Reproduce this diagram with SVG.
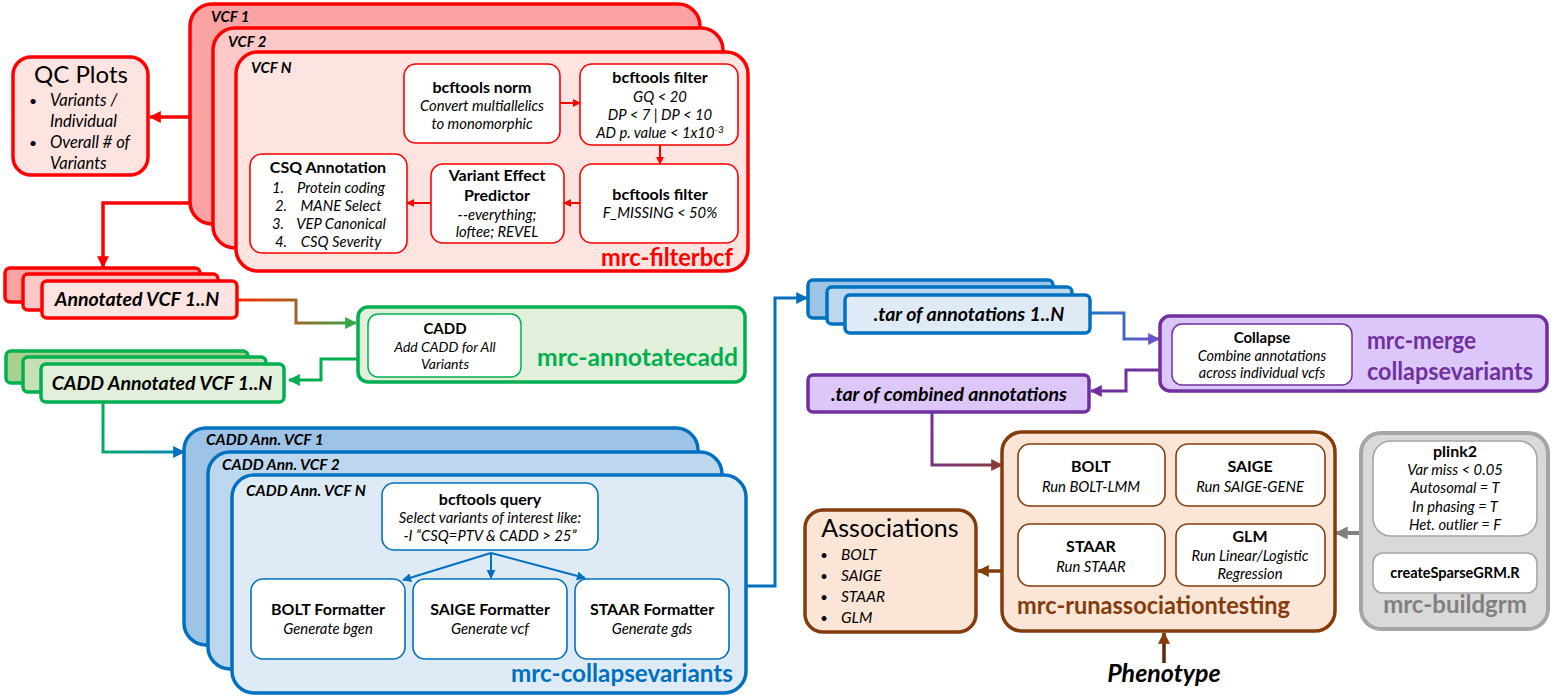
<svg xmlns="http://www.w3.org/2000/svg" width="1557" height="697" viewBox="0 0 1557 697">
<defs>
<style>
text{font-family:Lato,"Open Sans","Liberation Sans",sans-serif;fill:#000;}
.c{text-anchor:middle;}
.e{text-anchor:end;}
.b{font-weight:bold;}
.i{font-style:italic;}
.bi{font-weight:bold;font-style:italic;}
.h{font-size:16px;}
.s{font-size:14.8px;}
.lbl{font-size:24px;font-weight:bold;}
.red{stroke:#ff0000;stroke-width:3.5;}
.redin{fill:#fff;stroke:#ff0000;stroke-width:1.6;}
.grn{stroke:#00b050;stroke-width:3.5;}
.blu{stroke:#0070c0;stroke-width:3.5;}
.bluin{fill:#fff;stroke:#0070c0;stroke-width:1.6;}
.pur{stroke:#7030a0;stroke-width:3.5;}
.brn{stroke:#843c0c;stroke-width:3.5;}
.brnin{fill:#fff;stroke:#843c0c;stroke-width:1.6;}
.gry{stroke:#a5a5a5;stroke-width:4;}
.gryin{fill:#fff;stroke:#a5a5a5;stroke-width:1.6;}
.conn{fill:none;}
</style>
<marker id="aRed" viewBox="0 0 10 10" refX="9" refY="5" markerWidth="12" markerHeight="12" markerUnits="userSpaceOnUse" orient="auto"><path d="M0,0L10,5L0,10z" fill="#ff0000"/></marker>
<marker id="aRedS" viewBox="0 0 10 10" refX="9" refY="5" markerWidth="8" markerHeight="8" markerUnits="userSpaceOnUse" orient="auto"><path d="M0,0L10,5L0,10z" fill="#ff0000"/></marker>
<marker id="aGrn" viewBox="0 0 10 10" refX="9" refY="5" markerWidth="12" markerHeight="12" markerUnits="userSpaceOnUse" orient="auto"><path d="M0,0L10,5L0,10z" fill="#00b050"/></marker>
<marker id="aGrn2" viewBox="0 0 10 10" refX="9" refY="5" markerWidth="12" markerHeight="12" markerUnits="userSpaceOnUse" orient="auto"><path d="M0,0L10,5L0,10z" fill="#3aa64a"/></marker>
<marker id="aBlu" viewBox="0 0 10 10" refX="9" refY="5" markerWidth="12" markerHeight="12" markerUnits="userSpaceOnUse" orient="auto"><path d="M0,0L10,5L0,10z" fill="#0070c0"/></marker>
<marker id="aBluS" viewBox="0 0 10 10" refX="9" refY="5" markerWidth="9" markerHeight="9" markerUnits="userSpaceOnUse" orient="auto"><path d="M0,0L10,5L0,10z" fill="#0070c0"/></marker>
<marker id="aPur" viewBox="0 0 10 10" refX="9" refY="5" markerWidth="12" markerHeight="12" markerUnits="userSpaceOnUse" orient="auto"><path d="M0,0L10,5L0,10z" fill="#7030a0"/></marker>
<marker id="aPur2" viewBox="0 0 10 10" refX="9" refY="5" markerWidth="12" markerHeight="12" markerUnits="userSpaceOnUse" orient="auto"><path d="M0,0L10,5L0,10z" fill="#6a55c8"/></marker>
<marker id="aBrn" viewBox="0 0 10 10" refX="9" refY="5" markerWidth="12" markerHeight="12" markerUnits="userSpaceOnUse" orient="auto"><path d="M0,0L10,5L0,10z" fill="#843c0c"/></marker>
<marker id="aBrn2" viewBox="0 0 10 10" refX="9" refY="5" markerWidth="12" markerHeight="12" markerUnits="userSpaceOnUse" orient="auto"><path d="M0,0L10,5L0,10z" fill="#8b3a3a"/></marker>
<marker id="aGry" viewBox="0 0 10 10" refX="9" refY="5" markerWidth="13" markerHeight="13" markerUnits="userSpaceOnUse" orient="auto"><path d="M0,0L10,5L0,10z" fill="#808080"/></marker>
<marker id="aGryS" viewBox="0 0 10 10" refX="9" refY="5" markerWidth="8" markerHeight="8" markerUnits="userSpaceOnUse" orient="auto"><path d="M0,0L10,5L0,10z" fill="#808080"/></marker>
<linearGradient id="gRG" gradientUnits="userSpaceOnUse" x1="237" y1="299" x2="356" y2="323"><stop offset="0" stop-color="#ff2a00"/><stop offset="1" stop-color="#3aa64a"/></linearGradient>
<linearGradient id="gGB" gradientUnits="userSpaceOnUse" x1="103" y1="403" x2="183" y2="452"><stop offset="0" stop-color="#00b050"/><stop offset="1" stop-color="#0a8ab8"/></linearGradient>
<linearGradient id="gBP" gradientUnits="userSpaceOnUse" x1="1090" y1="313" x2="1158" y2="339"><stop offset="0" stop-color="#1c78c8"/><stop offset="1" stop-color="#6a55c8"/></linearGradient>
<linearGradient id="gPB" gradientUnits="userSpaceOnUse" x1="932" y1="412" x2="1002" y2="466"><stop offset="0" stop-color="#7030a0"/><stop offset="1" stop-color="#8b3a3a"/></linearGradient>
</defs>

<g id="connectors">
<path class="conn" d="M190,117H150" stroke="#ff0000" stroke-width="3.5" marker-end="url(#aRed)"/>
<path class="conn" d="M190,203H103V267" stroke="#ff0000" stroke-width="3.5" marker-end="url(#aRed)"/>
<path class="conn" d="M237,300H296V323H356" stroke="url(#gRG)" stroke-width="3" marker-end="url(#aGrn2)"/>
<path class="conn" d="M358,359H321V380H289" stroke="#00b050" stroke-width="3" marker-end="url(#aGrn)"/>
<path class="conn" d="M103,403V452H184" stroke="url(#gGB)" stroke-width="3" marker-end="url(#aBlu)"/>
<path class="conn" d="M746,586H775V298H807" stroke="#0070c0" stroke-width="3" marker-end="url(#aBlu)"/>
<path class="conn" d="M1090,313H1124V339H1159" stroke="url(#gBP)" stroke-width="3" marker-end="url(#aPur2)"/>
<path class="conn" d="M1160,370H1126V391H1091" stroke="#7030a0" stroke-width="3" marker-end="url(#aPur)"/>
<path class="conn" d="M932,412V465H1002" stroke="url(#gPB)" stroke-width="3" marker-end="url(#aBrn2)"/>
<path class="conn" d="M1002,571H978" stroke="#843c0c" stroke-width="3.5" marker-end="url(#aBrn)"/>
<path class="conn" d="M1164,663V633" stroke="#5a2a0a" stroke-width="3.5" marker-end="url(#aBrn)"/>
<path class="conn" d="M1361,533H1336" stroke="#808080" stroke-width="4" marker-end="url(#aGry)"/>
<path class="conn" d="M1455,536V553" stroke="#808080" stroke-width="2" marker-end="url(#aGryS)"/>
</g>

<g id="qc-plots">
<rect x="13" y="57" width="135" height="118" rx="18" fill="#fde4e1" class="red"/>
<text x="81" y="83" class="c" font-size="24">QC Plots</text>
<text x="33" y="106" class="c" font-size="14">•</text>
<text x="50" y="106" class="i" font-size="16.5">Variants /</text>
<text x="50" y="127" class="i" font-size="16.5">Individual</text>
<text x="33" y="148" class="c" font-size="14">•</text>
<text x="50" y="148" class="i" font-size="16.5">Overall # of</text>
<text x="50" y="169" class="i" font-size="16.5">Variants</text>
</g>

<g id="mrc-filterbcf">
<rect x="190" y="4" width="510" height="220" rx="22" fill="#fba2a2" class="red"/>
<text x="211" y="22" class="bi" font-size="15">VCF 1</text>
<rect x="213" y="28" width="510" height="220" rx="22" fill="#fdc8c8" class="red"/>
<text x="228" y="47" class="bi" font-size="15">VCF 2</text>
<rect x="236" y="52" width="512" height="219" rx="22" fill="#fde4e1" class="red"/>
<text x="251" y="73" class="bi" font-size="15">VCF N</text>
<text x="733" y="266" class="lbl e" textLength="132" lengthAdjust="spacingAndGlyphs" style="fill:#ff0000">mrc-filterbcf</text>
</g>

<g id="bcftools-norm">
<rect x="404" y="64" width="156" height="79" rx="12" class="redin"/>
<text x="482" y="93" class="c b h">bcftools norm</text>
<text x="482" y="111" class="c i s">Convert multiallelics</text>
<text x="482" y="129" class="c i s">to monomorphic</text>
</g>
<g id="bcftools-filter-1">
<rect x="580" y="64" width="158" height="81" rx="12" class="redin"/>
<text x="660" y="83" class="c b h">bcftools filter</text>
<text x="660" y="102" class="c i s">GQ &lt; 20</text>
<text x="660" y="120" class="c i s">DP &lt; 7 | DP &lt; 10</text>
<text x="660" y="138" class="c i s">AD p. value &lt; 1x10<tspan dy="-5" font-size="10">-3</tspan></text>
</g>
<g id="bcftools-filter-2">
<rect x="580" y="164" width="158" height="79" rx="12" class="redin"/>
<text x="660" y="200" class="c b h">bcftools filter</text>
<text x="660" y="218" class="c i s">F_MISSING &lt; 50%</text>
</g>
<g id="vep">
<rect x="431" y="164" width="133" height="79" rx="12" class="redin"/>
<text x="497" y="181" class="c b h">Variant Effect</text>
<text x="497" y="201" class="c b h">Predictor</text>
<text x="497" y="220" class="c i s">--everything;</text>
<text x="497" y="237" class="c i s">loftee; REVEL</text>
</g>
<g id="csq-annotation">
<rect x="250" y="154" width="157" height="99" rx="12" class="redin"/>
<text x="328" y="173" class="c b h">CSQ Annotation</text>
<text x="278" y="193" class="c i s">1.</text><text x="341" y="193" class="c i s">Protein coding</text>
<text x="281" y="211" class="c i s">2.</text><text x="341" y="211" class="c i s">MANE Select</text>
<text x="278" y="229" class="c i s">3.</text><text x="341" y="229" class="c i s">VEP Canonical</text>
<text x="281" y="247" class="c i s">4.</text><text x="341" y="247" class="c i s">CSQ Severity</text>
</g>
<g id="inner-red-arrows">
<path class="conn" d="M560,103H580" stroke="#ff0000" stroke-width="2" marker-end="url(#aRedS)"/>
<path class="conn" d="M660,145V164" stroke="#ff0000" stroke-width="2" marker-end="url(#aRedS)"/>
<path class="conn" d="M580,203H564" stroke="#ff0000" stroke-width="2" marker-end="url(#aRedS)"/>
<path class="conn" d="M431,203H407" stroke="#ff0000" stroke-width="2" marker-end="url(#aRedS)"/>
</g>

<g id="annotated-vcf">
<rect x="5" y="268" width="195" height="34" rx="5" fill="#fba2a2" class="red"/>
<rect x="23" y="274" width="195" height="36" rx="5" fill="#fdc8c8" class="red"/>
<rect x="42" y="281" width="195" height="37" rx="5" fill="#fde4e1" class="red"/>
<text x="137" y="306" class="c bi" font-size="19.5">Annotated VCF 1..N</text>
</g>

<g id="mrc-annotatecadd">
<rect x="358" y="307" width="387" height="75" rx="10" fill="#e2efda" class="grn"/>
<rect x="368" y="314" width="153" height="63" rx="10" fill="#fff" stroke="#00b050" stroke-width="1.5"/>
<text x="445" y="334" class="c b" font-size="15">CADD</text>
<text x="445" y="352" class="c i" font-size="14">Add CADD for All</text>
<text x="445" y="369" class="c i" font-size="14">Variants</text>
<text x="738" y="366" class="lbl e" textLength="201" lengthAdjust="spacingAndGlyphs" style="fill:#00b050">mrc-annotatecadd</text>
</g>

<g id="cadd-annotated-vcf">
<rect x="6" y="351" width="242" height="32" rx="5" fill="#a9d18e" class="grn"/>
<rect x="23" y="357" width="243" height="35" rx="5" fill="#c5e0b4" class="grn"/>
<rect x="41" y="364" width="243" height="38" rx="5" fill="#e2efda" class="grn"/>
<text x="162" y="390" class="c bi" font-size="19.5">CADD Annotated VCF 1..N</text>
</g>

<g id="mrc-collapsevariants">
<rect x="184" y="428" width="514" height="217" rx="22" fill="#9dc3e6" class="blu"/>
<text x="206" y="445" class="bi" font-size="15.5">CADD Ann. VCF 1</text>
<rect x="208" y="452" width="514" height="217" rx="22" fill="#bdd7ee" class="blu"/>
<text x="222" y="470" class="bi" font-size="15.5">CADD Ann. VCF 2</text>
<rect x="232" y="475" width="514" height="218" rx="22" fill="#deebf7" class="blu"/>
<text x="246" y="496" class="bi" font-size="15.5">CADD Ann. VCF N</text>
<text x="733" y="682" class="lbl e" textLength="222" lengthAdjust="spacingAndGlyphs" style="fill:#0070c0">mrc-collapsevariants</text>
</g>
<g id="bcftools-query">
<rect x="382" y="483" width="216" height="67" rx="12" class="bluin"/>
<text x="490" y="505" class="c b h">bcftools query</text>
<text x="490" y="523" class="c i s">Select variants of interest like:</text>
<text x="490" y="541" class="c i s">-I “CSQ=PTV &amp; CADD &gt; 25”</text>
</g>
<g id="bolt-formatter">
<rect x="251" y="579" width="154" height="80" rx="12" class="bluin"/>
<text x="328" y="615" class="c b" font-size="16">BOLT Formatter</text>
<text x="328" y="634" class="c i s">Generate bgen</text>
</g>
<g id="saige-formatter">
<rect x="413" y="579" width="154" height="80" rx="12" class="bluin"/>
<text x="490" y="615" class="c b" font-size="16">SAIGE Formatter</text>
<text x="490" y="634" class="c i s">Generate vcf</text>
</g>
<g id="staar-formatter">
<rect x="575" y="579" width="154" height="80" rx="12" class="bluin"/>
<text x="652" y="615" class="c b" font-size="16">STAAR Formatter</text>
<text x="652" y="634" class="c i s">Generate gds</text>
</g>
<g id="query-arrows">
<path class="conn" d="M491,553L403,580" stroke="#0070c0" stroke-width="2" marker-end="url(#aBluS)"/>
<path class="conn" d="M491,553V578" stroke="#0070c0" stroke-width="2" marker-end="url(#aBluS)"/>
<path class="conn" d="M491,553L585,578" stroke="#0070c0" stroke-width="2" marker-end="url(#aBluS)"/>
</g>

<g id="tar-annotations">
<rect x="808" y="280" width="245" height="38" rx="5" fill="#9dc3e6" class="blu"/>
<rect x="827" y="287" width="245" height="37" rx="5" fill="#bdd7ee" class="blu"/>
<rect x="845" y="295" width="245" height="38" rx="5" fill="#deebf7" class="blu"/>
<text x="969" y="321" class="c bi" font-size="19.5">.tar of annotations 1..N</text>
</g>

<g id="mrc-mergecollapsevariants">
<rect x="1160" y="316" width="387" height="75" rx="10" fill="#dcc6fa" class="pur"/>
<rect x="1172" y="324" width="180" height="61" rx="10" fill="#fff" stroke="#7030a0" stroke-width="1.5"/>
<text x="1262" y="343" class="c b" font-size="15">Collapse</text>
<text x="1262" y="361" class="c i" font-size="14.5">Combine annotations</text>
<text x="1262" y="378" class="c i" font-size="14.5">across individual vcfs</text>
<text x="1367" y="349" class="lbl" textLength="109" lengthAdjust="spacingAndGlyphs" style="fill:#7030a0">mrc-merge</text>
<text x="1367" y="380" class="lbl" textLength="166" lengthAdjust="spacingAndGlyphs" style="fill:#7030a0">collapsevariants</text>
</g>

<g id="tar-combined">
<rect x="808" y="375" width="281" height="37" rx="5" fill="#dcc6fa" class="pur"/>
<text x="949" y="401" class="c bi" font-size="19.5">.tar of combined annotations</text>
</g>

<g id="mrc-runassociationtesting">
<rect x="1002" y="432" width="333" height="199" rx="20" fill="#fbe5d6" class="brn"/>
<text x="1017" y="614" class="lbl" textLength="273" lengthAdjust="spacingAndGlyphs" style="fill:#843c0c">mrc-runassociationtesting</text>
</g>
<g id="bolt">
<rect x="1018" y="444" width="147" height="62" rx="12" class="brnin"/>
<text x="1091" y="472" class="c b h">BOLT</text>
<text x="1091" y="492" class="c i s">Run BOLT-LMM</text>
</g>
<g id="saige">
<rect x="1176" y="444" width="149" height="62" rx="12" class="brnin"/>
<text x="1250" y="472" class="c b h">SAIGE</text>
<text x="1250" y="492" class="c i s">Run SAIGE-GENE</text>
</g>
<g id="staar">
<rect x="1018" y="524" width="147" height="62" rx="12" class="brnin"/>
<text x="1091" y="552" class="c b h">STAAR</text>
<text x="1091" y="572" class="c i s">Run STAAR</text>
</g>
<g id="glm">
<rect x="1176" y="524" width="149" height="62" rx="12" class="brnin"/>
<text x="1250" y="542" class="c b h">GLM</text>
<text x="1250" y="561" class="c i s">Run Linear/Logistic</text>
<text x="1250" y="579" class="c i s">Regression</text>
</g>

<g id="associations">
<rect x="805" y="510" width="171" height="122" rx="18" fill="#fbe5d6" class="brn"/>
<text x="890" y="537" class="c" font-size="25">Associations</text>
<text x="824" y="560" class="c" font-size="13">•</text><text x="841" y="560" class="i" font-size="15.5">BOLT</text>
<text x="824" y="581" class="c" font-size="13">•</text><text x="841" y="581" class="i" font-size="15.5">SAIGE</text>
<text x="824" y="602" class="c" font-size="13">•</text><text x="841" y="602" class="i" font-size="15.5">STAAR</text>
<text x="824" y="623" class="c" font-size="13">•</text><text x="841" y="623" class="i" font-size="15.5">GLM</text>
</g>

<g id="phenotype">
<text x="1164" y="682" class="c bi" font-size="25">Phenotype</text>
</g>

<g id="mrc-buildgrm">
<rect x="1361" y="433" width="187" height="196" rx="20" fill="#d9d9d9" class="gry"/>
<text x="1455" y="613" class="lbl c" style="fill:#808080">mrc-buildgrm</text>
</g>
<g id="plink2">
<rect x="1373" y="441" width="164" height="95" rx="18" class="gryin"/>
<text x="1455" y="457" class="c b h">plink2</text>
<text x="1455" y="475" class="c i s">Var miss &lt; 0.05</text>
<text x="1455" y="493" class="c i s">Autosomal = T</text>
<text x="1455" y="512" class="c i s">In phasing = T</text>
<text x="1455" y="530" class="c i s">Het. outlier = F</text>
</g>
<g id="createsparsegrm">
<rect x="1373" y="553" width="164" height="40" rx="10" class="gryin"/>
<text x="1455" y="578" class="c b" font-size="14.5">createSparseGRM.R</text>
</g>
</svg>
